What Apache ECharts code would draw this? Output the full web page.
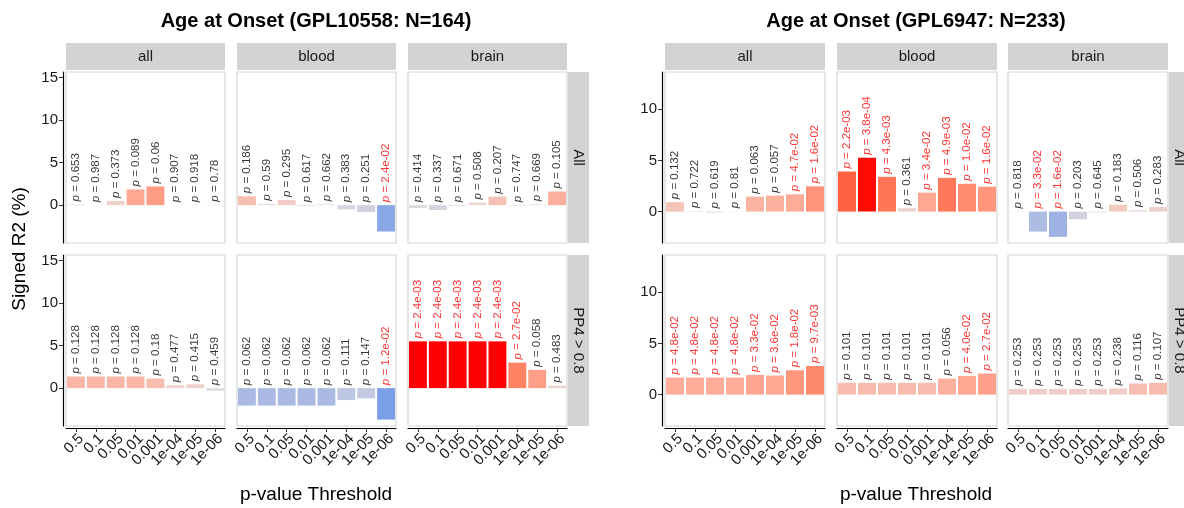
<!DOCTYPE html>
<html><head><meta charset="utf-8">
<script src="https://cdn.jsdelivr.net/npm/echarts@6/dist/echarts.min.js"></script>
<style>html,body{margin:0;padding:0;background:#fff}#c{width:1184px;height:508px}</style>
</head><body><div id="c"></div>
<script>
const categories = ['0.5','0.1','0.05','0.01','0.001','1e-04','1e-05','1e-06'];
const colNames = ['all','blood','brain'];
const rowNames = ['All','PP4 > 0.8'];
const titles = ['Age at Onset (GPL10558: N=164)','Age at Onset (GPL6947: N=233)'];

// Left plot (GPL10558)
const L_all_All_r2   = [0.08, 0.0, 0.5, 1.85, 2.2, 0.0, 0.0, 0.05];
const L_all_All_p    = [0.653, 0.987, 0.373, 0.089, 0.06, 0.907, 0.918, 0.78];
const L_blood_All_r2 = [1.05, 0.15, 0.6, -0.1, 0.1, -0.5, -0.8, -3.1];
const L_blood_All_p  = [0.186, 0.59, 0.295, 0.617, 0.662, 0.383, 0.251, 0.024];
const L_brain_All_r2 = [-0.35, -0.57, -0.1, 0.3, 1.0, -0.07, 0.1, 1.6];
const L_brain_All_p  = [0.414, 0.337, 0.671, 0.508, 0.207, 0.747, 0.669, 0.105];
const L_all_PP4_r2   = [1.37, 1.37, 1.37, 1.37, 1.13, 0.35, 0.45, -0.3];
const L_all_PP4_p    = [0.128, 0.128, 0.128, 0.128, 0.18, 0.477, 0.415, 0.459];
const L_blood_PP4_r2 = [-2.05, -2.05, -2.05, -2.05, -2.05, -1.4, -1.2, -3.7];
const L_blood_PP4_p  = [0.062, 0.062, 0.062, 0.062, 0.062, 0.111, 0.147, 0.012];
const L_brain_PP4_r2 = [5.5, 5.5, 5.5, 5.5, 5.5, 3.0, 2.15, 0.3];
const L_brain_PP4_p  = [0.0024, 0.0024, 0.0024, 0.0024, 0.0024, 0.027, 0.058, 0.483];

// Right plot (GPL6947)
const R_all_All_r2   = [0.92, 0.05, -0.1, 0.03, 1.46, 1.56, 1.69, 2.47];
const R_all_All_p    = [0.132, 0.722, 0.619, 0.81, 0.063, 0.057, 0.047, 0.016];
const R_blood_All_r2 = [3.92, 5.26, 3.4, 0.33, 1.85, 3.3, 2.72, 2.43];
const R_blood_All_p  = [0.0022, 0.00038, 0.0043, 0.361, 0.034, 0.0049, 0.010, 0.016];
const R_brain_All_r2 = [-0.03, -1.95, -2.47, -0.75, -0.09, 0.68, 0.15, 0.45];
const R_brain_All_p  = [0.818, 0.033, 0.016, 0.203, 0.645, 0.183, 0.506, 0.283];
const R_all_PP4_r2   = [1.67, 1.67, 1.67, 1.67, 1.92, 1.86, 2.38, 2.8];
const R_all_PP4_p    = [0.048, 0.048, 0.048, 0.048, 0.033, 0.036, 0.018, 0.0097];
const R_blood_PP4_r2 = [1.15, 1.15, 1.15, 1.15, 1.15, 1.57, 1.83, 2.06];
const R_blood_PP4_p  = [0.101, 0.101, 0.101, 0.101, 0.101, 0.056, 0.040, 0.027];
const R_brain_PP4_r2 = [0.56, 0.56, 0.56, 0.56, 0.56, 0.6, 1.08, 1.15];
const R_brain_PP4_p  = [0.253, 0.253, 0.253, 0.253, 0.253, 0.238, 0.116, 0.107];

const yTicksLeft = [0, 5, 10, 15];
const yTicksRight = [0, 5, 10];

const panels = [
  { facets: [[ [L_all_All_r2,L_all_All_p], [L_blood_All_r2,L_blood_All_p], [L_brain_All_r2,L_brain_All_p] ],
             [ [L_all_PP4_r2,L_all_PP4_p], [L_blood_PP4_r2,L_blood_PP4_p], [L_brain_PP4_r2,L_brain_PP4_p] ]],
    ticks: yTicksLeft, min: -4.45, max: 15.65, lefts: [66, 237, 408], width: 159, cx: 316 },
  { facets: [[ [R_all_All_r2,R_all_All_p], [R_blood_All_r2,R_blood_All_p], [R_brain_All_r2,R_brain_All_p] ],
             [ [R_all_PP4_r2,R_all_PP4_p], [R_blood_PP4_r2,R_blood_PP4_p], [R_brain_PP4_r2,R_brain_PP4_p] ]],
    ticks: yTicksRight, min: -3.07, max: 13.65, lefts: [665, 837, 1008], width: 160, cx: 916 }
];
const tops = [72, 255], H = 171;
const FONT = '"Liberation Sans", Arial, Helvetica, sans-serif';

// colour scale
function hex2rgb(h){return [parseInt(h.substr(1,2),16),parseInt(h.substr(3,2),16),parseInt(h.substr(5,2),16)];}
function toLin(c){c/=255;return c<=0.04045?c/12.92:Math.pow((c+0.055)/1.055,2.4);}
function fromLin(c){c=c<=0.0031308?12.92*c:1.055*Math.pow(c,1/2.4)-0.055;return Math.max(0,Math.min(255,Math.round(c*255)));}
function rgb2lab(rgb){const [r,g,b]=rgb.map(toLin);let x=(r*0.4124+g*0.3576+b*0.1805)/0.95047,y=(r*0.2126+g*0.7152+b*0.0722),z=(r*0.0193+g*0.1192+b*0.9505)/1.08883;const f=t=>t>0.008856?Math.cbrt(t):7.787*t+16/116;const fx=f(x),fy=f(y),fz=f(z);return [116*fy-16,500*(fx-fy),200*(fy-fz)];}
function lab2rgb(lab){const [L,a,bb]=lab;const fy=(L+16)/116,fx=fy+a/500,fz=fy-bb/200;const fi=t=>t*t*t>0.008856?t*t*t:(t-16/116)/7.787;let x=fi(fx)*0.95047,y=fi(fy),z=fi(fz)*1.08883;const r=x*3.2406+y*-1.5372+z*-0.4986,g=x*-0.9689+y*1.8758+z*0.0415,b=x*0.0557+y*-0.2040+z*1.0570;return [fromLin(r),fromLin(g),fromLin(b)];}
const MIDRGB = hex2rgb('#E6DEDE'), LOWRGB = [107,149,233];
const MID = rgb2lab(MIDRGB), HIGH = rgb2lab(hex2rgb('#FF0000'));
function fill(v){
  let c;
  if (v >= 0) { const t = Math.min(v/5.3,1); c = lab2rgb(MID.map((m,i)=>m+(HIGH[i]-m)*t)); }
  else { const t = Math.min(-v/4.2,1); c = MIDRGB.map((m,i)=>Math.round(m+(LOWRGB[i]-m)*t)); }
  return 'rgb('+c.join(',')+')';
}
function fmtP(p){
  if (p < 0.05) { const s = p.toExponential(1); const [m,e] = s.split('e'); const n = Math.abs(parseInt(e)); return m+'e'+(parseInt(e)<0?'-':'+')+(n<10?'0'+n:n); }
  return String(p);
}

const grid=[], xAxis=[], yAxis=[], series=[], graphic=[];
panels.forEach((P, pi) => {
  for (let r=0;r<2;r++) for (let c=0;c<3;c++) {
    const gi = grid.length;
    grid.push({left:P.lefts[c], top:tops[r], width:P.width, height:H, show:true, borderColor:'#D6D6D6', borderWidth:1.2, backgroundColor:'#fff'});
    xAxis.push({type:'category', gridIndex:gi, data:categories, offset:2, position:'bottom',
      axisLine:{show:r===1, onZero:false, lineStyle:{color:'#000', width:1.2}},
      axisTick:{show:r===1, alignWithLabel:true, length:4, lineStyle:{color:'#333'}},
      axisLabel:{show:r===1, rotate:45, interval:0, fontSize:15, color:'#1a1a1a', fontFamily:FONT, margin:3,
        align:'right', verticalAlign:'top'},
      splitLine:{show:false}});
    yAxis.push({type:'value', gridIndex:gi, min:P.min, max:P.max, offset:3,
      axisLine:{show:c===0, onZero:false, lineStyle:{color:'#000', width:1.2}},
      axisTick:{show:c===0, length:4, customValues:P.ticks, lineStyle:{color:'#333'}},
      axisLabel:{show:c===0, customValues:P.ticks, fontSize:15, color:'#1a1a1a', fontFamily:FONT, margin:5},
      splitLine:{show:false}});
    const [vals, ps] = P.facets[r][c];
    series.push({type:'bar', xAxisIndex:gi, yAxisIndex:gi, barCategoryGap:'10%',
      data: vals.map(v=>({value:v, itemStyle:{color:fill(v)}})), silent:true});
    series.push({type:'scatter', xAxisIndex:gi, yAxisIndex:gi, symbolSize:0.01, silent:true,
      data: vals.map((v,i)=>({value:[i, Math.max(v,0)],
        label:{show:true, position:'top', distance:3, rotate:90, align:'left', verticalAlign:'middle',
          formatter:'{i|p} = '+fmtP(ps[i]), color: ps[i]<0.05?'#FF0000':'#000',
          fontSize:11.5, fontFamily:FONT,
          rich:{i:{fontStyle:'italic', fontSize:11.5, fontFamily:FONT, color: ps[i]<0.05?'#FF0000':'#000'}}}}))});
    if (r===0) {
      graphic.push({type:'rect', shape:{x:P.lefts[c], y:43, width:P.width, height:27}, style:{fill:'#D3D3D3'}, silent:true});
      graphic.push({type:'text', x:P.lefts[c]+P.width/2, y:57, style:{text:colNames[c], fill:'#1a1a1a', font:'15px '+FONT, textAlign:'center', textVerticalAlign:'middle'}, silent:true});
    }
    if (c===2) {
      const sx = P.lefts[2]+P.width+1;
      graphic.push({type:'rect', shape:{x:sx, y:tops[r], width:21, height:H}, style:{fill:'#D3D3D3'}, silent:true});
      graphic.push({type:'text', x:sx+10, y:tops[r]+H/2, rotation:-Math.PI/2, style:{text:rowNames[r], fill:'#1a1a1a', font:'15px '+FONT, textAlign:'center', textVerticalAlign:'middle'}, silent:true});
    }
  }
  graphic.push({type:'text', x:P.cx, y:21, style:{text:titles[pi], fill:'#000', font:'bold 20px '+FONT, textAlign:'center', textVerticalAlign:'middle'}, silent:true});
  graphic.push({type:'text', x:P.cx, y:495, style:{text:'p-value Threshold', fill:'#000', font:'19px '+FONT, textAlign:'center', textVerticalAlign:'middle'}, silent:true});
});
graphic.push({type:'text', x:20, y:249, rotation:Math.PI/2, style:{text:'Signed R2 (%)', fill:'#000', font:'19px '+FONT, textAlign:'center', textVerticalAlign:'middle'}, silent:true});

const chart = echarts.init(document.getElementById('c'), null, {renderer:'canvas'});
chart.setOption({animation:false, backgroundColor:'#fff', grid, xAxis, yAxis, series, graphic});
</script>
</body></html>
